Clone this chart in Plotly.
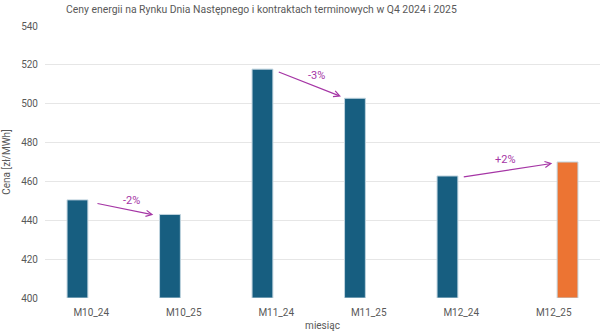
import plotly.graph_objects as go

categories = ["M10_24", "M10_25", "M11_24", "M11_25", "M12_24", "M12_25"]
values = [450.5, 443.0, 517.8, 502.8, 462.8, 470.0]
series = ["RDN", "RDN", "RDN", "RDN", "RDN", "kontrakt"]
colors = {"RDN": "#175E80", "kontrakt": "#EC7433"}
offsets = {"RDN": -0.149, "kontrakt": 0.149}
y_ticks = [400, 420, 440, 460, 480, 500, 520, 540]
title_text = "Ceny energii na Rynku Dnia Następnego i kontraktach terminowych w Q4 2024 i 2025"

# arrows: (x_start, y_start, x_end, y_end, label, label_x, label_y)
arrows = [
    (0.051, 448.8, 0.671, 442.8, "-2%", 0.430, 450.0),
    (2.011, 516.6, 2.700, 503.7, "-3%", 2.437, 514.5),
    (4.011, 462.2, 4.984, 469.3, "+2%", 4.473, 471.3),
]

FONT = "Roboto"

fig = go.Figure()
for s in ["RDN", "kontrakt"]:
    idx = [i for i, v in enumerate(series) if v == s]
    fig.add_trace(go.Bar(
        x=[i + offsets[s] for i in idx], y=[values[i] - 400 for i in idx], base=400,
        marker=dict(color=colors[s], line=dict(color="#BFD3DE", width=1)),
        width=0.225, hoverinfo="skip", name=s,
    ))

purple = "#A535A5"
for xs, ys, xe, ye, lab, lx, ly in arrows:
    fig.add_annotation(x=xe, y=ye, ax=xs, ay=ys, xref="x", yref="y", axref="x", ayref="y",
                       showarrow=True, arrowhead=5, arrowsize=1, arrowwidth=1.2,
                       arrowcolor=purple, text="")
    fig.add_annotation(x=lx, y=ly, xref="x", yref="y", text=lab, showarrow=False,
                       font=dict(color=purple, size=11, family=FONT))

# title as annotation
fig.add_annotation(x=(261 - 45) / 555, y=1.0, xref="paper", yref="paper",
                   xanchor="center", yanchor="bottom", yshift=8, showarrow=False,
                   text=title_text, font=dict(size=10.4, color="#595959", family=FONT))

fig.update_layout(
    width=604, height=336,
    margin=dict(l=45, r=4, t=26, b=38),
    paper_bgcolor="white", plot_bgcolor="white",
    showlegend=False, barmode="overlay",
    font=dict(family=FONT, color="#595959", size=10),
)
fig.update_xaxes(tickmode="array", tickvals=list(range(len(categories))), ticktext=categories,
                 range=[-0.5, 5.5], showgrid=False, showline=False, ticks="", zeroline=False,
                 ticklabelstandoff=7,
                 title=dict(text="miesiąc", font=dict(size=10, color="#595959"), standoff=4),
                 tickfont=dict(size=10, color="#595959"))
fig.update_yaxes(range=[400, 540], tickvals=y_ticks, showgrid=True, gridcolor="#E6E6E6",
                 gridwidth=1, zeroline=False, showline=False, ticklabelstandoff=6,
                 title=dict(text="Cena [zł/MWh]", font=dict(size=10, color="#595959"), standoff=8),
                 tickfont=dict(size=10, color="#595959"))

fig.write_html("out.html")
